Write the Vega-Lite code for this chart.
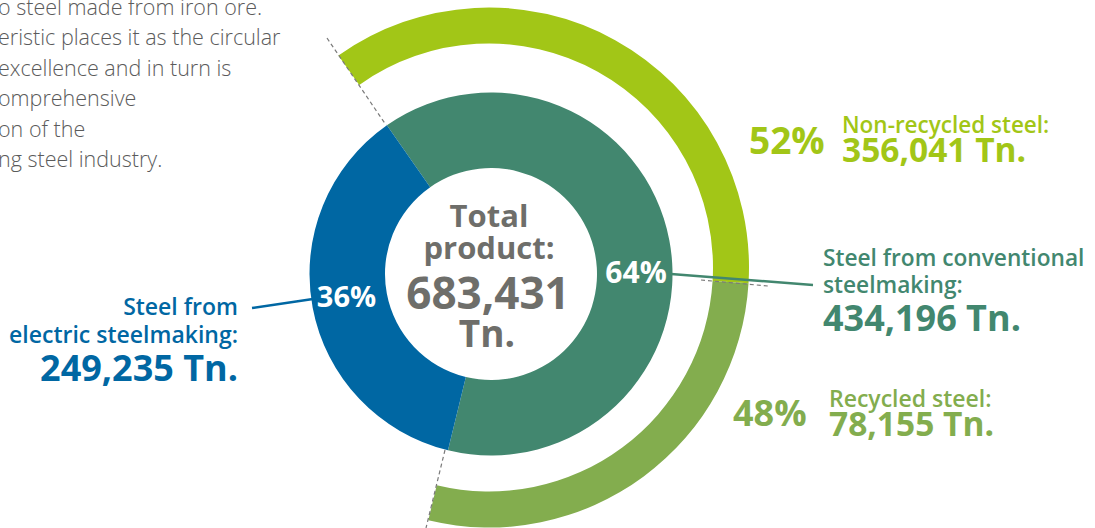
{
  "$schema": "https://vega.github.io/schema/vega-lite/v6.json",
  "width": 1095,
  "height": 528,
  "autosize": "none",
  "padding": 0,
  "background": "white",
  "config": {"view": {"stroke": null}, "text": {"font": "Open Sans"}},
  "datasets": {
    "inner": [
      {"segment": "Steel from conventional steelmaking", "tonnes": 434196, "pct": "64%", "ord": 1},
      {"segment": "Steel from electric steelmaking", "tonnes": 249235, "pct": "36%", "ord": 2}
    ],
    "outer": [
      {"segment": "Non-recycled steel", "tonnes": 356041, "pct": "52%", "arc_share": 56.3, "ord": 1},
      {"segment": "Recycled steel", "tonnes": 78155, "pct": "48%", "arc_share": 43.7, "ord": 2}
    ],
    "total": [{"label": "Total product", "tonnes": 683431}]
  },
  "layer": [
    {
      "data": {"name": "outer"},
      "mark": {"type": "arc", "x": 489, "y": 267.5, "innerRadius": 224, "outerRadius": 260},
      "encoding": {
        "theta": {"field": "arc_share", "type": "quantitative", "stack": true, "scale": {"domain": [0, 100], "range": [-0.6178, 3.3772]}},
        "order": {"field": "ord", "type": "quantitative"},
        "color": {"field": "segment", "type": "nominal", "scale": {"domain": ["Non-recycled steel", "Recycled steel"], "range": ["#a2c617", "#83ad4e"]}, "legend": null}
      }
    },
    {
      "data": {"name": "inner"},
      "mark": {"type": "arc", "x": 491, "y": 274, "innerRadius": 106, "outerRadius": 181.5},
      "encoding": {
        "theta": {"field": "tonnes", "type": "quantitative", "stack": true, "scale": {"range": [-0.6109, 5.6723]}},
        "order": {"field": "ord", "type": "quantitative"},
        "color": {"field": "segment", "type": "nominal", "scale": {"domain": ["Steel from conventional steelmaking", "Steel from electric steelmaking"], "range": ["#42876f", "#0067a3"]}, "legend": null}
      }
    },
    {"data": {"values": [{}]}, "mark": {"type": "rule", "stroke": "#7a7a7a", "strokeWidth": 1.2, "strokeDash": [4, 3]},
     "encoding": {"x": {"value": 327}, "y": {"value": 38}, "x2": {"value": 386}, "y2": {"value": 125}}},
    {"data": {"values": [{}]}, "mark": {"type": "rule", "stroke": "#7a7a7a", "strokeWidth": 1.2, "strokeDash": [4, 3]},
     "encoding": {"x": {"value": 445}, "y": {"value": 450}, "x2": {"value": 426}, "y2": {"value": 528}}},
    {"data": {"values": [{}]}, "mark": {"type": "rule", "stroke": "#7a7a7a", "strokeWidth": 1.2, "strokeDash": [4, 3]},
     "encoding": {"x": {"value": 701}, "y": {"value": 280}, "x2": {"value": 768}, "y2": {"value": 286}}},
    {"data": {"values": [{}]}, "mark": {"type": "rule", "stroke": "#42876f", "strokeWidth": 2.5},
     "encoding": {"x": {"value": 671}, "y": {"value": 274}, "x2": {"value": 813}, "y2": {"value": 285}}},
    {"data": {"values": [{}]}, "mark": {"type": "rule", "stroke": "#0067a3", "strokeWidth": 2.5},
     "encoding": {"x": {"value": 252}, "y": {"value": 308}, "x2": {"value": 313}, "y2": {"value": 299}}},
    {
      "data": {"values": [{}]},
      "mark": {"type": "text", "x": -2, "y": 15, "align": "left", "baseline": "alphabetic", "fontSize": 21.5, "fontWeight": 300, "lineHeight": 30.4, "color": "#5b5b5b",
        "text": ["o steel made from iron ore.", "eristic places it as the circular", " excellence and in turn is", "omprehensive", "on of the", "ng steel industry."]},
      "encoding": {}
    },
    {
      "data": {"name": "inner"},
      "transform": [{"filter": "datum.ord === 1"}],
      "mark": {"type": "text", "x": 636, "y": 283, "align": "center", "baseline": "alphabetic", "fontSize": 30, "fontWeight": "bold", "color": "white"},
      "encoding": {"text": {"field": "pct"}}
    },
    {
      "data": {"name": "inner"},
      "transform": [{"filter": "datum.ord === 2"}],
      "mark": {"type": "text", "x": 346.5, "y": 307, "align": "center", "baseline": "alphabetic", "fontSize": 29, "fontWeight": "bold", "color": "white"},
      "encoding": {"text": {"field": "pct"}}
    },
    {
      "data": {"name": "total"},
      "mark": {"type": "text", "x": 489, "y": 227, "align": "center", "baseline": "alphabetic", "fontSize": 31, "fontWeight": "bold", "lineHeight": 32, "color": "#6e6e6a", "text": ["Total", "product:"]},
      "encoding": {}
    },
    {
      "data": {"name": "total"},
      "mark": {"type": "text", "x": 488, "y": 309, "align": "center", "baseline": "alphabetic", "fontSize": 44, "fontWeight": "bold", "color": "#6e6e6a"},
      "encoding": {"text": {"field": "tonnes", "type": "quantitative", "format": ","}}
    },
    {
      "data": {"name": "total"},
      "mark": {"type": "text", "x": 487, "y": 347, "align": "center", "baseline": "alphabetic", "fontSize": 37, "fontWeight": "bold", "color": "#6e6e6a", "text": "Tn."},
      "encoding": {}
    },
    {
      "data": {"name": "outer"},
      "transform": [{"filter": "datum.ord === 1"}],
      "mark": {"type": "text", "x": 749, "y": 154, "align": "left", "baseline": "alphabetic", "fontSize": 37, "fontWeight": "bold", "color": "#a2c617"},
      "encoding": {"text": {"field": "pct"}}
    },
    {
      "data": {"name": "outer"},
      "transform": [{"filter": "datum.ord === 1"}],
      "mark": {"type": "text", "x": 842, "y": 133, "align": "left", "baseline": "alphabetic", "fontSize": 22.5, "fontWeight": 600, "color": "#a2c617", "text": "Non-recycled steel:"},
      "encoding": {}
    },
    {
      "data": {"name": "outer"},
      "transform": [{"filter": "datum.ord === 1"}, {"calculate": "format(datum.tonnes, ',') + ' Tn.'", "as": "label"}],
      "mark": {"type": "text", "x": 842, "y": 162, "align": "left", "baseline": "alphabetic", "fontSize": 33.5, "fontWeight": "bold", "color": "#a2c617"},
      "encoding": {"text": {"field": "label"}}
    },
    {
      "data": {"name": "outer"},
      "transform": [{"filter": "datum.ord === 2"}],
      "mark": {"type": "text", "x": 733, "y": 426, "align": "left", "baseline": "alphabetic", "fontSize": 36, "fontWeight": "bold", "color": "#83ad4e"},
      "encoding": {"text": {"field": "pct"}}
    },
    {
      "data": {"name": "outer"},
      "transform": [{"filter": "datum.ord === 2"}],
      "mark": {"type": "text", "x": 829, "y": 407, "align": "left", "baseline": "alphabetic", "fontSize": 23, "fontWeight": 600, "color": "#83ad4e", "text": "Recycled steel:"},
      "encoding": {}
    },
    {
      "data": {"name": "outer"},
      "transform": [{"filter": "datum.ord === 2"}, {"calculate": "format(datum.tonnes, ',') + ' Tn.'", "as": "label"}],
      "mark": {"type": "text", "x": 829, "y": 436, "align": "left", "baseline": "alphabetic", "fontSize": 33.5, "fontWeight": "bold", "color": "#83ad4e"},
      "encoding": {"text": {"field": "label"}}
    },
    {
      "data": {"name": "inner"},
      "transform": [{"filter": "datum.ord === 1"}],
      "mark": {"type": "text", "x": 823, "y": 266, "align": "left", "baseline": "alphabetic", "fontSize": 22.7, "fontWeight": 600, "lineHeight": 27, "color": "#42876f", "text": ["Steel from conventional", "steelmaking:"]},
      "encoding": {}
    },
    {
      "data": {"name": "inner"},
      "transform": [{"filter": "datum.ord === 1"}, {"calculate": "format(datum.tonnes, ',') + ' Tn.'", "as": "label"}],
      "mark": {"type": "text", "x": 823, "y": 331, "align": "left", "baseline": "alphabetic", "fontSize": 36, "fontWeight": "bold", "color": "#42876f"},
      "encoding": {"text": {"field": "label"}}
    },
    {
      "data": {"name": "inner"},
      "transform": [{"filter": "datum.ord === 2"}],
      "mark": {"type": "text", "x": 238, "y": 315, "align": "right", "baseline": "alphabetic", "fontSize": 23, "fontWeight": 600, "lineHeight": 28, "color": "#0067a3", "text": ["Steel from", "electric steelmaking:"]},
      "encoding": {}
    },
    {
      "data": {"name": "inner"},
      "transform": [{"filter": "datum.ord === 2"}, {"calculate": "format(datum.tonnes, ',') + ' Tn.'", "as": "label"}],
      "mark": {"type": "text", "x": 238, "y": 381, "align": "right", "baseline": "alphabetic", "fontSize": 36, "fontWeight": "bold", "color": "#0067a3"},
      "encoding": {"text": {"field": "label"}}
    }
  ],
  "resolve": {"scale": {"color": "independent", "theta": "independent"}}
}
